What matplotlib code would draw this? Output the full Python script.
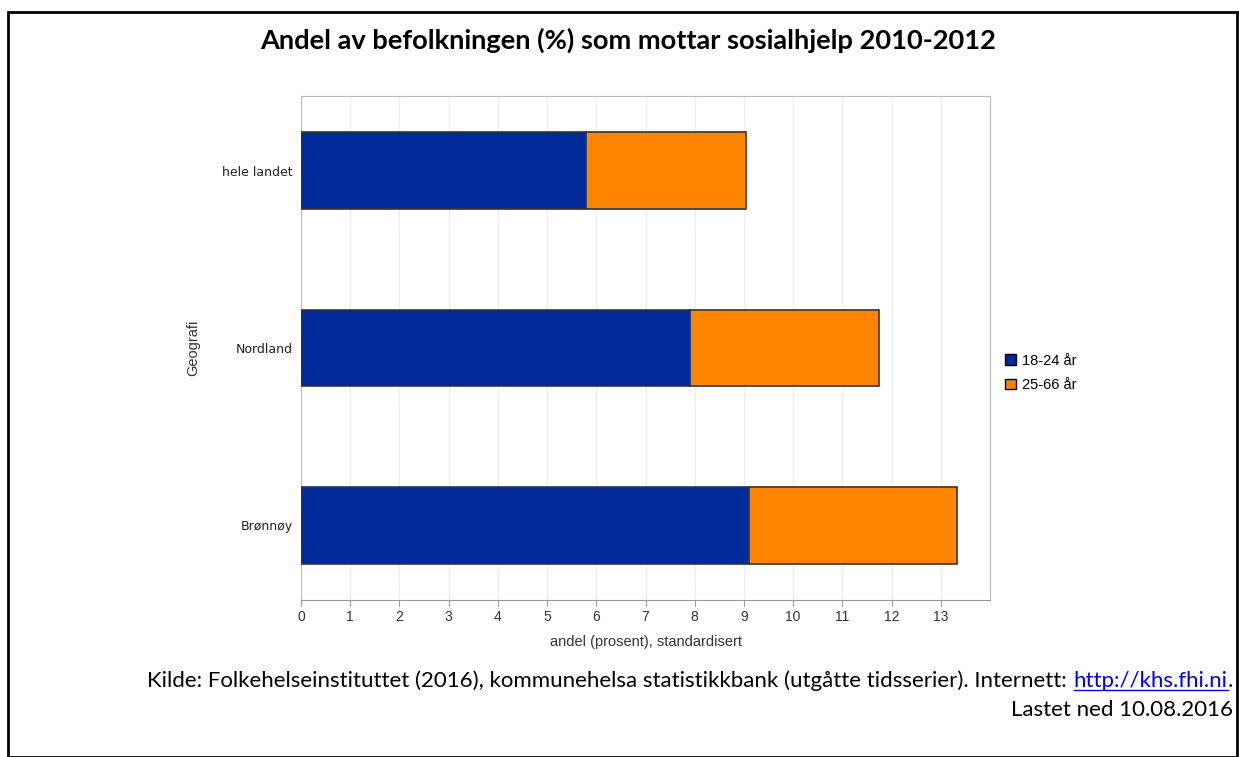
import matplotlib.pyplot as plt
from matplotlib.patches import Rectangle, Patch

# data
regions = ['hele landet', 'Nordland', 'Brønnøy']
age_18_24 = [5.80, 7.90, 9.10]
age_25_66 = [3.24, 3.84, 4.22]
series_labels = ['18-24 år', '25-66 år']
colors = ['#002a9a', '#ff8400']
xticks = list(range(0, 14))

title = 'Andel av befolkningen (%) som mottar sosialhjelp 2010-2012'
source = 'Kilde: Folkehelseinstituttet (2016), kommunehelsa statistikkbank (utgåtte tidsserier). Internett: '
link = 'http://khs.fhi.ni'
loaded = 'Lastet ned 10.08.2016'

W, H = 1239, 757
fig = plt.figure(figsize=(W / 100, H / 100), dpi=100)
fig.patch.set_facecolor('white')

# outer frame
fig.add_artist(Rectangle((8 / W, 0), (W - 10) / W, (H - 12) / H, transform=fig.transFigure,
                         fill=False, edgecolor='black', linewidth=2))

ax = fig.add_axes([301 / W, 1 - 600 / H, (990 - 301) / W, (600 - 96) / H])

y = list(range(len(regions)))
ax.barh(y, age_18_24, height=0.43, color=colors[0], edgecolor='#333333', linewidth=1.2, zorder=3)
ax.barh(y, age_25_66, left=age_18_24, height=0.43, color=colors[1], edgecolor='#333333',
        linewidth=1.2, zorder=3)

ax.set_xlim(0, 14)
ax.set_ylim(2.42, -0.42)
ax.set_xticks(xticks)
ax.set_yticks(y)
ax.set_yticklabels(regions, fontsize=9, family='DejaVu Sans', color='#222222')
ax.set_xticklabels([str(t) for t in xticks], fontsize=10, family='Liberation Sans', color='#333333')
ax.tick_params(axis='y', length=0, pad=6)
ax.tick_params(axis='x', length=4, color='#999999', pad=3)
ax.grid(axis='x', color='#eeeeee', linewidth=1, zorder=0)
for s in ax.spines.values():
    s.set_color('#bbbbbb')
ax.spines['bottom'].set_color('#999999')

ax.set_xlabel('andel (prosent), standardisert', fontsize=10.5, family='Liberation Sans',
              color='#333333', labelpad=8)
ax.set_ylabel('Geografi', fontsize=10.5, family='Liberation Sans', color='#333333', labelpad=16)

handles = [Patch(facecolor=c, edgecolor='black', linewidth=1) for c in colors]
fig.legend(handles, series_labels, loc='center left', bbox_to_anchor=(992 / W, 1 - 373 / H),
           frameon=False, prop={'family': 'Liberation Sans', 'size': 10.5},
           handlelength=0.75, handleheight=0.75, handletextpad=0.4, labelspacing=0.7)

fig.canvas.draw()
r = fig.canvas.get_renderer()

t = fig.text(628 / W, 1 - 40 / H, title, ha='center', va='center', fontsize=16,
             fontweight='bold', family='Lato')
t.set_fontsize(16 * 740 / t.get_window_extent(r).width)

# source caption, right aligned, with a blue underlined link
cap_size = 14
right = 1233
probe = fig.text(0, 0, source + link + '.', fontsize=cap_size, family='Lato')
cap_size = cap_size * 1086 / probe.get_window_extent(r).width
probe.remove()

dot = fig.text(right / W, 1 - 681 / H, '.', ha='right', va='center', fontsize=cap_size, family='Lato')
dot_w = dot.get_window_extent(r).width
url = fig.text((right - dot_w) / W, 1 - 681 / H, link, ha='right', va='center',
               fontsize=cap_size, family='Lato', color='#0000ee')
ub = url.get_window_extent(r)
fig.add_artist(plt.Line2D([ub.x0 / W, ub.x1 / W], [(ub.y0 + 1) / H] * 2, color='#0000ee',
                          linewidth=1, transform=fig.transFigure))
fig.text((ub.x0 - 1) / W, 1 - 681 / H, source, ha='right', va='center',
         fontsize=cap_size, family='Lato')
fig.text(right / W, 1 - 710 / H, loaded, ha='right', va='center',
         fontsize=cap_size, family='Lato')

fig.savefig('out.png', dpi=100)
